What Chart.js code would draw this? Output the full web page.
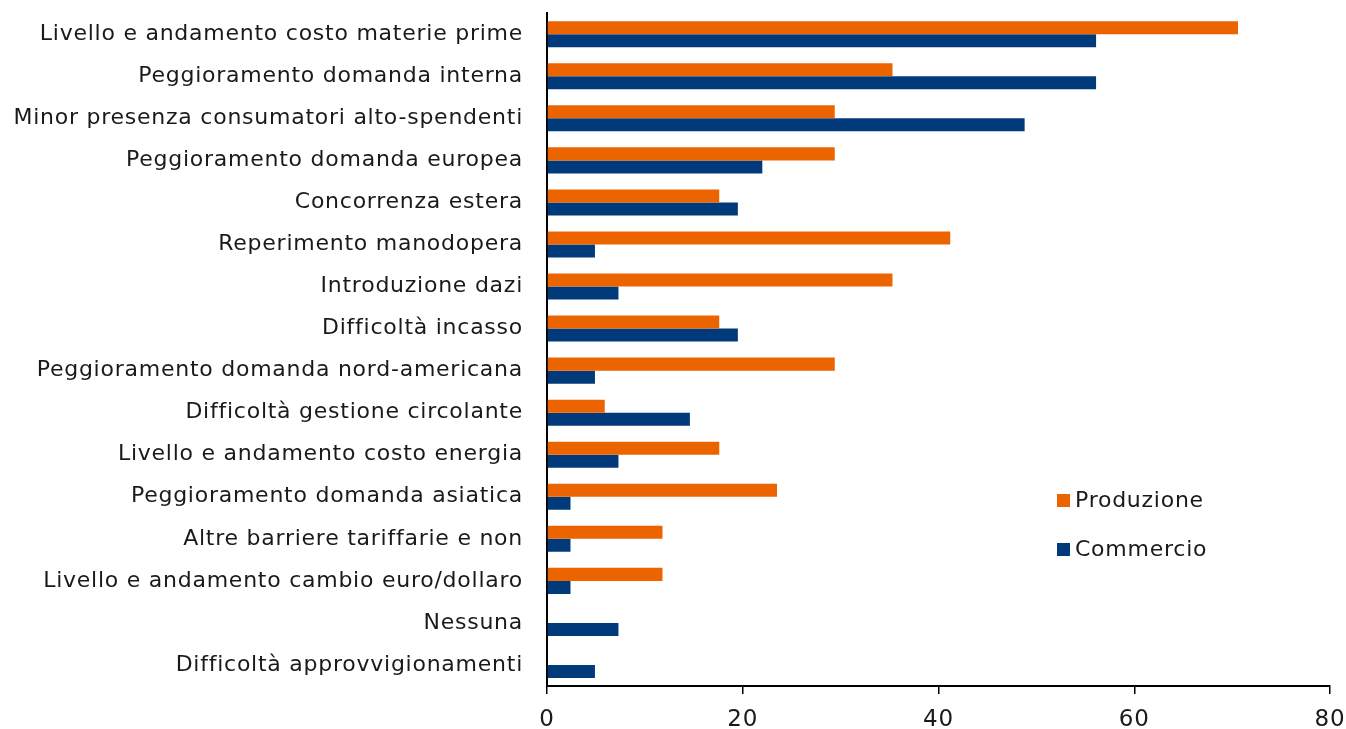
<!DOCTYPE html>
<html>
<head>
<meta charset="utf-8">
<script src="https://cdn.jsdelivr.net/npm/chart.js@4"></script>
<style>
html,body{margin:0;padding:0;background:#fff;}
#wrap{width:1346px;height:729px;position:relative;}
</style>
</head>
<body>
<div id="wrap"><canvas id="c" width="1346" height="729"></canvas></div>
<script>
const categories = [
  "Livello e andamento costo materie prime",
  "Peggioramento domanda interna",
  "Minor presenza consumatori alto-spendenti",
  "Peggioramento domanda europea",
  "Concorrenza estera",
  "Reperimento manodopera",
  "Introduzione dazi",
  "Difficoltà incasso",
  "Peggioramento domanda nord-americana",
  "Difficoltà gestione circolante",
  "Livello e andamento costo energia",
  "Peggioramento domanda asiatica",
  "Altre barriere tariffarie e non",
  "Livello e andamento cambio euro/dollaro",
  "Nessuna",
  "Difficoltà approvvigionamenti"
];
const produzione = [70.6, 35.3, 29.4, 29.4, 17.6, 41.2, 35.3, 17.6, 29.4, 5.9, 17.6, 23.5, 11.8, 11.8, 0, 0];
const commercio = [56.1, 56.1, 48.8, 22.0, 19.5, 4.9, 7.3, 19.5, 4.9, 14.6, 7.3, 2.4, 2.4, 2.4, 7.3, 4.9];
const xTicks = [0, 20, 40, 60, 80];
const seriesNames = ["Produzione", "Commercio"];

const ORANGE = "#EC6400";
const BLUE = "#003A7A";
const FONT = "'DejaVu Sans', sans-serif";

const spacingPlugin = {
  id: 'spacing',
  beforeDraw(chart) { chart.ctx.letterSpacing = '0.75px'; }
};

const legendPlugin = {
  id: 'insideLegend',
  afterDraw(chart) {
    const ctx = chart.ctx;
    ctx.save();
    const ys = [500, 549];
    ctx.font = "22px " + FONT;
    ctx.textBaseline = 'middle';
    chart.data.datasets.forEach((ds, i) => {
      ctx.fillStyle = ds.backgroundColor;
      ctx.fillRect(1057, ys[i] - 6, 13, 13);
      ctx.fillStyle = '#1a1a1a';
      ctx.fillText(ds.label, 1075, ys[i] + 1);
    });
    ctx.restore();
  }
};

new Chart(document.getElementById('c'), {
  type: 'bar',
  data: {
    labels: categories,
    datasets: [
      {label: seriesNames[0], data: produzione, backgroundColor: ORANGE, categoryPercentage: 0.62, barPercentage: 1.0},
      {label: seriesNames[1], data: commercio, backgroundColor: BLUE, categoryPercentage: 0.62, barPercentage: 1.0}
    ]
  },
  options: {
    indexAxis: 'y',
    responsive: false,
    animation: false,
    devicePixelRatio: 1,
    layout: {padding: {top: 13, right: 16, left: 0, bottom: 0}},
    plugins: {legend: {display: false}, tooltip: {enabled: false}},
    scales: {
      x: {
        min: 0, max: 80,
        afterBuildTicks: s => { s.ticks = xTicks.map(v => ({value: v})); },
        afterFit: s => { s.height = 43; s.paddingRight = 0; s.paddingLeft = 0; },
        grid: {drawOnChartArea: false, drawTicks: true, tickLength: 8, color: '#000', lineWidth: 1.5},
        border: {color: '#000', width: 2},
        ticks: {color: '#1a1a1a', font: {family: FONT, size: 23}, padding: 12, maxRotation: 0}
      },
      y: {
        afterFit: s => { s.width = 547; },
        grid: {display: true, drawOnChartArea: false, drawTicks: true, tickLength: 24, color: 'rgba(0,0,0,0)'},
        border: {color: '#000', width: 2},
        ticks: {color: '#1a1a1a', font: {family: FONT, size: 22}, padding: 0, autoSkip: false}
      }
    }
  },
  plugins: [spacingPlugin, legendPlugin]
});
</script>
</body>
</html>
